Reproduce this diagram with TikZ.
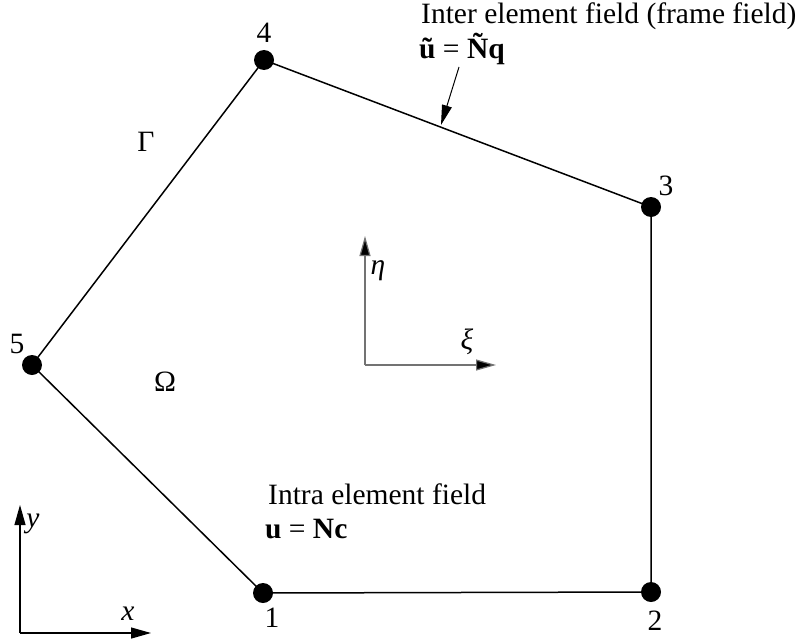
\documentclass[tikz,border=0pt]{standalone}
\usepackage{fontspec}
\setmainfont{Liberation Serif}
\usetikzlibrary{arrows.meta}
\begin{document}
\begin{tikzpicture}[x=1pt,y=-1pt,
  vert/.style={circle,fill=black,inner sep=0pt,minimum size=20pt},
  edge/.style={line width=1.5pt},
  lbl/.style={font=\fontsize{29.5}{34}\selectfont,inner sep=0pt},
  axis/.style={line width=1.2pt,-{Triangle[length=20pt,width=11pt]}},
  gaxis/.style={line width=1.2pt,draw=gray!90!black,-{Triangle[length=20pt,width=11pt,fill=black]}},
  lead/.style={line width=1pt,-{Triangle[length=20pt,width=10pt]}}]
\useasboundingbox (0,0) rectangle (799,642);
\node[vert] (n1) at (263,593) {};
\node[vert] (n2) at (651,592) {};
\node[vert] (n3) at (651,207) {};
\node[vert] (n4) at (264,60) {};
\node[vert] (n5) at (32,365) {};
\draw[edge] (n1.center) -- (n2.center) -- (n3.center) -- (n4.center) -- (n5.center) -- cycle;
\node[lbl] (l1) at (272,618) {1};
\node[lbl] (l2) at (655,621) {2};
\node[lbl] (l3) at (666,186) {3};
\node[lbl] (l4) at (264,33) {4};
\node[lbl] (l5) at (17,344) {5};
\node[lbl] (gam) at (146,142) {Γ};
\node[lbl] (om) at (165,382) {Ω};
% local axes
\coordinate (lo) at (365,365);
\coordinate (ley) at (365,236);
\coordinate (lex) at (496,365);
\draw[gaxis] (lo) -- (ley);
\draw[gaxis] (lo) -- (lex);
\node[lbl] (eta) at (378,271) {\textit{η}};
\node[lbl] (xi) at (467,342) {\textit{ξ}};
% global axes
\coordinate (go) at (20,633);
\coordinate (gy) at (20,505);
\coordinate (gx) at (151,633);
\draw[axis] (go) -- (gy);
\draw[axis] (go) -- (gx);
\node[lbl] (yl) at (33,524) {\textit{y}};
\node[lbl] (xl) at (128,614) {\textit{x}};
% texts
\node[lbl,anchor=base west] (inter) at (421,24) {Inter element field (frame field)};
\node[lbl,anchor=base west] (intereq) at (419,58) {\textbf{ũ} = \textbf{Ñq}};
\coordinate (as) at (459,67);
\coordinate (ae) at (441,125);
\draw[lead] (as) -- (ae);
\node[lbl,anchor=base west] (intra) at (268,504) {Intra element field};
\node[lbl,anchor=base west] (intraeq) at (265,538) {\textbf{u} = \textbf{Nc}};
\end{tikzpicture}
\end{document}
